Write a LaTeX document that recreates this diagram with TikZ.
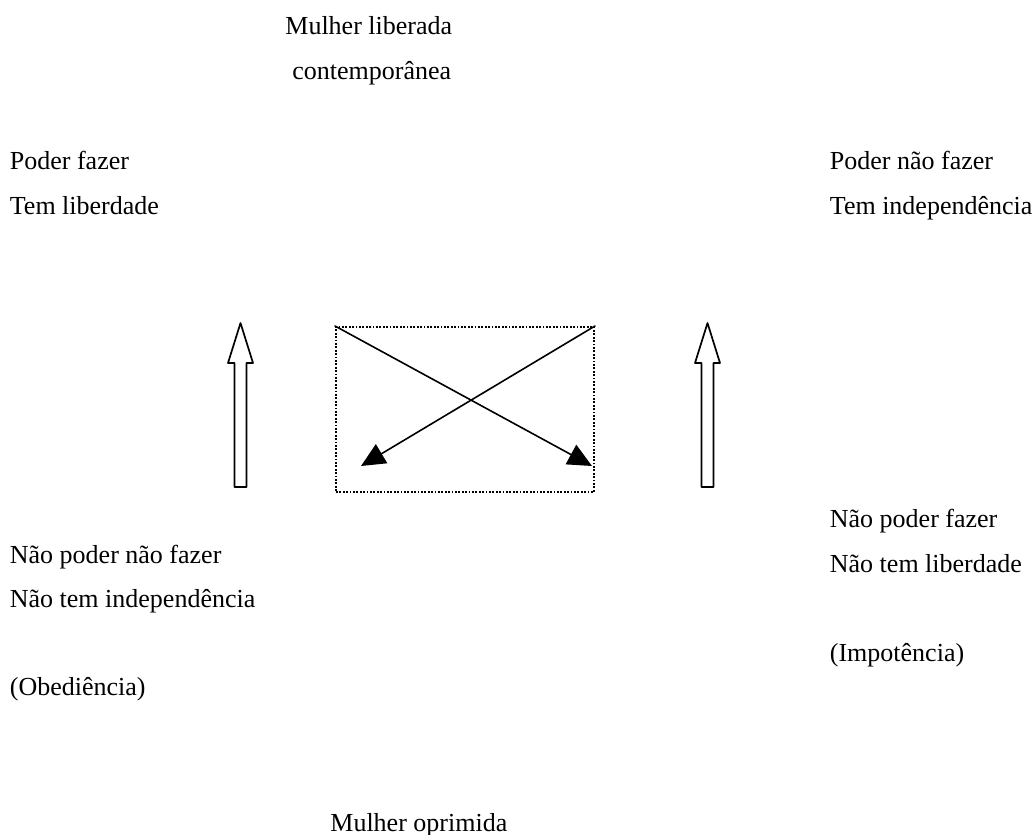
\documentclass[tikz,border=0pt]{standalone}
\usepackage{fontspec}
\setmainfont{Liberation Serif}
\usetikzlibrary{arrows.meta}

\begin{document}
\begin{tikzpicture}[x=0.5pt,y=-0.5pt,>={Triangle[length=12pt,width=11pt]},line cap=round,line join=round]
\tikzset{txt/.style={font=\fontsize{13}{22}\selectfont,anchor=base west,inner sep=0pt}}
\useasboundingbox (0,0) rectangle (1036,834);
\node[txt] (lib1) at (285,35) {Mulher liberada};
\node[txt] (lib2) at (292,80) {contempor\^anea};
\node[txt] (pf1) at (9.5,169.5) {Poder fazer};
\node[txt] (pf2) at (9.5,214) {Tem liberdade};
\node[txt] (pnf1) at (829.5,169.5) {Poder n\~ao fazer};
\node[txt] (pnf2) at (829.5,214) {Tem independ\^encia};
\node[txt] (npnf1) at (9.5,563) {N\~ao poder n\~ao fazer};
\node[txt] (npnf2) at (9.5,607) {N\~ao tem independ\^encia};
\node[txt] (obed) at (9.5,695) {(Obedi\^encia)};
\node[txt] (npf1) at (829.5,527) {N\~ao poder fazer};
\node[txt] (npf2) at (829.5,572) {N\~ao tem liberdade};
\node[txt] (impot) at (829.5,661) {(Impot\^encia)};
\node[txt] (opr) at (330,831) {Mulher oprimida};
% dotted box with the crossing arrows
\node[draw,line width=1pt,dash pattern=on 0.9pt off 0.8pt,line cap=butt,minimum width=129pt,minimum height=82.5pt,inner sep=0pt] (frame) at (465,409.5) {};
\coordinate (tipL) at (361,466);
\coordinate (tipR) at (592,466);
\draw[line width=0.8pt,->] (frame.north west) -- (tipR);
\draw[line width=0.8pt,->] (frame.north east) -- (tipL);
% hollow up arrows
\foreach \x in {240.5,707.5} {\draw[line width=0.85pt] (\x,323) -- (\x+12.5,363) -- (\x+6,363) -- (\x+6,487) -- (\x-6,487) -- (\x-6,363) -- (\x-12.5,363) -- cycle;}
\end{tikzpicture}
\end{document}
